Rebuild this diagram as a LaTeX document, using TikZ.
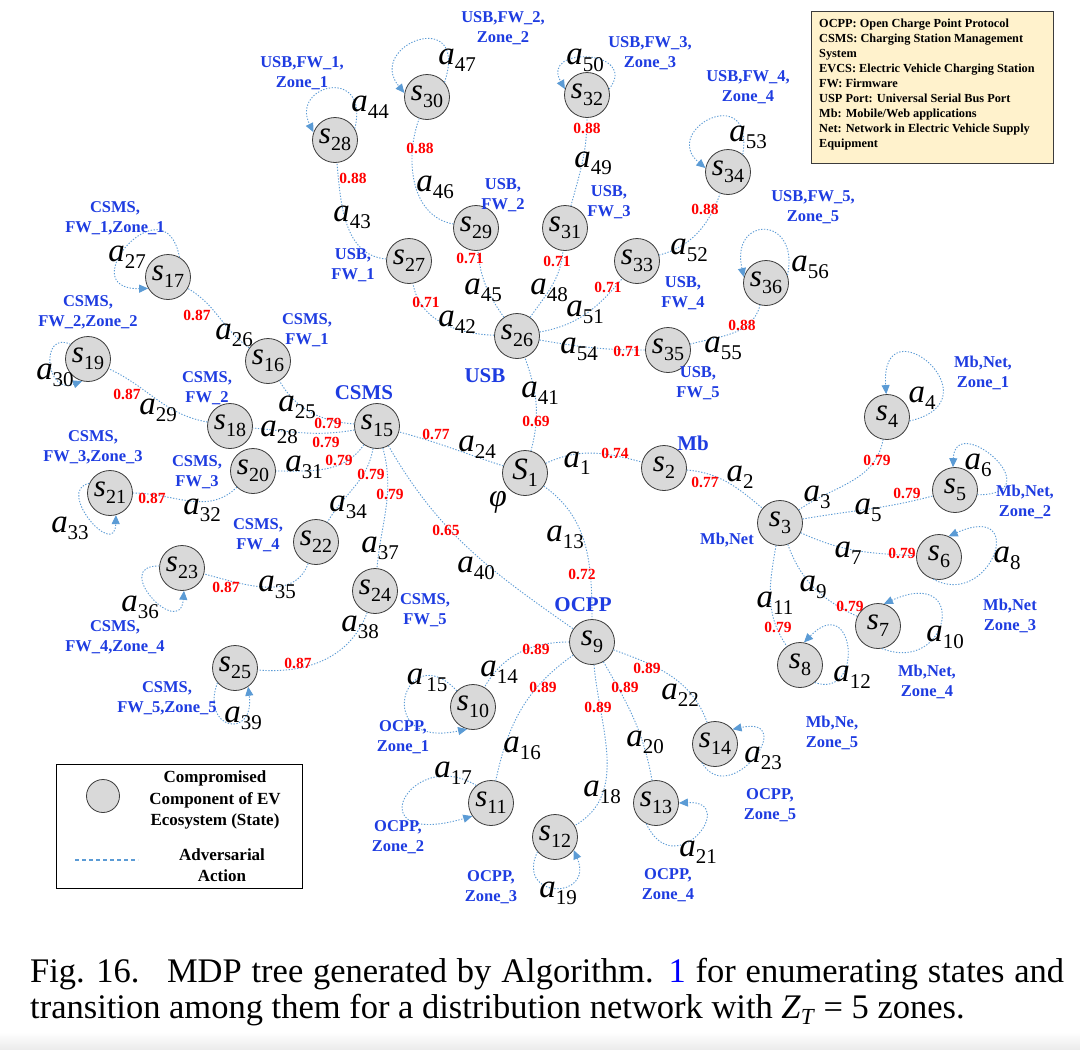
\documentclass[tikz,border=0pt]{standalone}
\usepackage{fontspec}
\setmainfont{Liberation Serif}
\usetikzlibrary{arrows.meta}
\definecolor{edgeblue}{RGB}{91,155,213}
\definecolor{labblue}{RGB}{30,60,225}
\definecolor{nodefill}{RGB}{217,217,217}
\definecolor{nodeline}{RGB}{60,60,60}
\definecolor{legfill}{RGB}{255,242,204}
\newcommand{\actl}[1]{{\fontsize{33}{33}\selectfont\itshape a}\raisebox{-7pt}{\fontsize{21}{21}\selectfont #1}}
\newcommand{\stl}[1]{{\fontsize{31}{31}\selectfont\itshape s}\raisebox{-7pt}{\fontsize{20}{20}\selectfont #1}}
\begin{document}
\begin{tikzpicture}[x=1pt,y=1pt,
  st/.style={circle,draw=nodeline,fill=nodefill,line width=0.8pt,minimum size=45pt,inner sep=0pt},
  edge/.style={draw=edgeblue,line width=0.9pt,dash pattern=on 1.3pt off 1.6pt},
  loopa/.style={edge,-{Triangle[length=9pt,width=8pt]}},
  act/.style={inner sep=0pt,text=black},
  prob/.style={inner sep=0pt,text=red,font=\fontsize{15.5}{16}\selectfont\bfseries},
  blab/.style={inner sep=0pt,text=labblue,align=center,font=\fontsize{16.5}{20}\selectfont\bfseries},
  bigblab/.style={inner sep=0pt,text=labblue,font=\fontsize{21}{24}\selectfont\bfseries}]
\path[use as bounding box] (0,0) rectangle (1080,-1050);
\fill[white] (0,0) rectangle (1080,-1050);
\shade[top color=white,bottom color=black!8] (0,-1032) rectangle (1080,-1050);

% ---------- states ----------
\node[st] (S1) at (525,-473) {{\fontsize{31}{31}\selectfont\itshape S}\raisebox{-7pt}{\fontsize{20}{20}\selectfont 1}};
\node[st] (s2) at (664,-468) {\stl{2}};
\node[st] (s3) at (780,-523) {\stl{3}};
\node[st] (s4) at (887,-417) {\stl{4}};
\node[st] (s5) at (955,-490) {\stl{5}};
\node[st] (s6) at (939,-557) {\stl{6}};
\node[st] (s7) at (878,-626) {\stl{7}};
\node[st] (s8) at (800,-665) {\stl{8}};
\node[st] (s9) at (592,-642) {\stl{9}};
\node[st] (s10) at (473,-707) {\stl{10}};
\node[st] (s11) at (491,-803) {\stl{11}};
\node[st] (s12) at (555,-837) {\stl{12}};
\node[st] (s13) at (656,-803) {\stl{13}};
\node[st] (s14) at (715,-744) {\stl{14}};
\node[st] (s15) at (377,-426) {\stl{15}};
\node[st] (s16) at (268,-361) {\stl{16}};
\node[st] (s17) at (168,-277) {\stl{17}};
\node[st] (s18) at (230,-426) {\stl{18}};
\node[st] (s19) at (88,-359) {\stl{19}};
\node[st] (s20) at (253,-471) {\stl{20}};
\node[st] (s21) at (110,-493) {\stl{21}};
\node[st] (s22) at (316,-542) {\stl{22}};
\node[st] (s23) at (182,-568) {\stl{23}};
\node[st] (s24) at (375,-591) {\stl{24}};
\node[st] (s25) at (235,-668) {\stl{25}};
\node[st] (s26) at (517,-336) {\stl{26}};
\node[st] (s27) at (409,-261) {\stl{27}};
\node[st] (s28) at (335,-140) {\stl{28}};
\node[st] (s29) at (476,-228) {\stl{29}};
\node[st] (s30) at (427,-97) {\stl{30}};
\node[st] (s31) at (565,-228) {\stl{31}};
\node[st] (s32) at (587,-95) {\stl{32}};
\node[st] (s33) at (637,-261) {\stl{33}};
\node[st] (s34) at (728,-172) {\stl{34}};
\node[st] (s35) at (668,-350) {\stl{35}};
\node[st] (s36) at (766,-283) {\stl{36}};

% ---------- tree edges ----------
\draw[edge] (S1) to[out=25,in=165] (s2);
\draw[edge] (s2) to[out=-5,in=140] (s3);
\draw[edge] (s3) to[out=35,in=-100] (s4);
\draw[edge] (s3) to[out=10,in=195] (s5);
\draw[edge] (s3) to[out=-25,in=177] (s6);
\draw[edge] (s3) to[out=-70,in=155] (s7);
\draw[edge] (s3) to[out=-100,in=125] (s8);
\draw[edge] (S1) to[out=-35,in=90] (s9);
\draw[edge] (s9) to[out=180,in=60] (s10);
\draw[edge] (s9) to[out=215,in=78] (s11);
\draw[edge] (s9) to[out=-85,in=30] (s12);
\draw[edge] (s9) to[out=-60,in=100] (s13);
\draw[edge] (s9) to[out=-20,in=110] (s14);
\draw[edge] (S1) to[out=162,in=-15] (s15);
\draw[edge] (s15) to[out=175,in=-60] (s16);
\draw[edge] (s16) to[out=145,in=-30] (s17);
\draw[edge] (s15) to[out=190,in=-5] (s18);
\draw[edge] (s18) to[out=170,in=-25] (s19);
\draw[edge] (s15) to[out=235,in=0] (s20);
\draw[edge] (s20) to[out=225,in=0] (s21);
\draw[edge] (s15) to[out=-100,in=60] (s22);
\draw[edge] (s22) to[out=-110,in=-15] (s23);
\draw[edge] (s15) to[out=-75,in=85] (s24);
\draw[edge] (s24) to[out=-110,in=-5] (s25);
\draw[edge] (s15) to[out=-60,in=145] (s9);
\draw[edge] (S1) to[out=75,in=-70] (s26);
\draw[edge] (s26) to[out=178,in=-80] (s27);
\draw[edge] (s27) to[out=175,in=-85] (s28);
\draw[edge] (s26) to[out=125,in=-85] (s29);
\draw[edge] (s29) to[out=170,in=-110] (s30);
\draw[edge] (s26) to[out=55,in=-95] (s31);
\draw[edge] (s31) to[out=75,in=-90] (s32);
\draw[edge] (s26) to[out=10,in=-130] (s33);
\draw[edge] (s33) to[out=15,in=-110] (s34);
\draw[edge] (s26) to[out=-10,in=180] (s35);
\draw[edge] (s35) to[out=15,in=-105] (s36);

% ---------- self loops ----------
\draw[loopa] (s4.-10) .. controls (1000,-400) and (880,-300) .. (s4.92);
\draw[loopa] (s5.-12) .. controls (1055,-495) and (955,-410) .. (s5.95);
\draw[loopa] (s6.-105) .. controls (990,-610) and (1030,-500) .. (s6.65);
\draw[loopa] (s7.-80) .. controls (950,-675) and (970,-565) .. (s7.75);
\draw[loopa] (s8.-50) .. controls (865,-700) and (855,-590) .. (s8.80);
\draw[loopa] (s10.135) .. controls (405,-635) and (370,-750) .. (s10.-105);
\draw[loopa] (s11.130) .. controls (410,-745) and (355,-850) .. (s11.-145);
\draw[loopa] (s12.-140) .. controls (515,-900) and (595,-900) .. (s12.-35);
\draw[loopa] (s13.-115) .. controls (675,-885) and (740,-800) .. (s13.0);
\draw[loopa] (s14.-125) .. controls (730,-810) and (800,-715) .. (s14.40);
\draw[loopa] (s17.60) .. controls (165,-180) and (70,-290) .. (s17.-150);
\draw[loopa] (s19.140) .. controls (40,-330) and (45,-395) .. (s19.-105);
\draw[loopa] (s21.155) .. controls (55,-490) and (115,-560) .. (s21.-75);
\draw[loopa] (s23.175) .. controls (110,-565) and (180,-640) .. (s23.-85);
\draw[loopa] (s25.-140) .. controls (200,-730) and (255,-740) .. (s25.-55);
\draw[loopa] (s28.30) .. controls (370,-65) and (290,-85) .. (s28.160);
\draw[loopa] (s30.40) .. controls (470,-5) and (365,-45) .. (s30.170);
\draw[loopa] (s32.15) .. controls (640,-50) and (540,-45) .. (s32.165);
\draw[loopa] (s34.50) .. controls (755,-80) and (660,-130) .. (s34.170);
\draw[loopa] (s36.20) .. controls (800,-215) and (730,-215) .. (s36.165);

% ---------- action labels ----------
\node[act] (a1) at (577,-463) {\actl{1}};
\node[act] (a2) at (740,-477) {\actl{2}};
\node[act] (a3) at (817,-497) {\actl{3}};
\node[act] (a4) at (922,-398) {\actl{4}};
\node[act] (a5) at (868,-510) {\actl{5}};
\node[act] (a6) at (978,-465) {\actl{6}};
\node[act] (a7) at (848,-553) {\actl{7}};
\node[act] (a8) at (1007,-558) {\actl{8}};
\node[act] (a9) at (813,-587) {\actl{9}};
\node[act] (a10) at (945,-637) {\actl{10}};
\node[act] (a11) at (775,-603) {\actl{11}};
\node[act] (a12) at (852,-677) {\actl{12}};
\node[act] (a13) at (565,-537) {\actl{13}};
\node[act] (a14) at (499,-672) {\actl{14}};
\node[act] (a15) at (427,-680) {\actl{\kern3pt 15}};
\node[act] (a16) at (522,-748) {\actl{16}};
\node[act] (a17) at (453,-773) {\actl{17}};
\node[act] (a18) at (602,-792) {\actl{18}};
\node[act] (a19) at (558,-893) {\actl{19}};
\node[act] (a20) at (645,-742) {\actl{20}};
\node[act] (a21) at (698,-852) {\actl{21}};
\node[act] (a22) at (680,-695) {\actl{22}};
\node[act] (a23) at (763,-758) {\actl{23}};
\node[act] (a24) at (477,-447) {\actl{24}};
\node[act] (a25) at (297,-407) {\actl{25}};
\node[act] (a26) at (234,-335) {\actl{26}};
\node[act] (a27) at (127,-257) {\actl{27}};
\node[act] (a28) at (279,-432) {\actl{28}};
\node[act] (a29) at (158,-410) {\actl{29}};
\node[act] (a30) at (55,-375) {\actl{30}};
\node[act] (a31) at (304,-467) {\actl{31}};
\node[act] (a32) at (202,-510) {\actl{32}};
\node[act] (a33) at (70,-528) {\actl{33}};
\node[act] (a34) at (348,-507) {\actl{34}};
\node[act] (a35) at (277,-587) {\actl{35}};
\node[act] (a36) at (140,-607) {\actl{36}};
\node[act] (a37) at (380,-548) {\actl{37}};
\node[act] (a38) at (360,-627) {\actl{38}};
\node[act] (a39) at (243,-718) {\actl{39}};
\node[act] (a40) at (476,-568) {\actl{40}};
\node[act] (a41) at (540,-393) {\actl{41}};
\node[act] (a42) at (457,-322) {\actl{42}};
\node[act] (a43) at (352,-217) {\actl{43}};
\node[act] (a44) at (370,-107) {\actl{44}};
\node[act] (a45) at (483,-290) {\actl{45}};
\node[act] (a46) at (435,-187) {\actl{46}};
\node[act] (a47) at (457,-60) {\actl{47}};
\node[act] (a48) at (549,-290) {\actl{48}};
\node[act] (a49) at (593,-163) {\actl{49}};
\node[act] (a50) at (585,-60) {\actl{50}};
\node[act] (a51) at (585,-312) {\actl{51}};
\node[act] (a52) at (689,-250) {\actl{52}};
\node[act] (a53) at (748,-137) {\actl{53}};
\node[act] (a54) at (579,-349) {\actl{54}};
\node[act] (a55) at (723,-348) {\actl{55}};
\node[act] (a56) at (810,-267) {\actl{56}};
\node[act,font=\fontsize{32}{32}\selectfont\itshape] (phi) at (498,-502) {φ};

% ---------- probabilities ----------
\node[prob] (p1) at (615,-453) {0.74};
\node[prob] (p2) at (705,-482) {0.77};
\node[prob] (p3) at (877,-460) {0.79};
\node[prob] (p5) at (907,-493) {0.79};
\node[prob] (p7) at (902,-553) {0.79};
\node[prob] (p9) at (850,-606) {0.79};
\node[prob] (p11) at (778,-627) {0.79};
\node[prob] (p13) at (582,-574) {0.72};
\node[prob] (p14) at (536,-649) {0.89};
\node[prob] (p16) at (543,-687) {0.89};
\node[prob] (p18) at (598,-707) {0.89};
\node[prob] (p20) at (625,-687) {0.89};
\node[prob] (p22) at (647,-668) {0.89};
\node[prob] (p24) at (436,-434) {0.77};
\node[prob] (p25) at (328,-423) {0.79};
\node[prob] (p26) at (197,-315) {0.87};
\node[prob] (p28) at (326,-442) {0.79};
\node[prob] (p29) at (127,-394) {0.87};
\node[prob] (p31) at (339,-460) {0.79};
\node[prob] (p32) at (152,-498) {0.87};
\node[prob] (p34) at (371,-474) {0.79};
\node[prob] (p35) at (226,-587) {0.87};
\node[prob] (p37) at (390,-494) {0.79};
\node[prob] (p38) at (298,-663) {0.87};
\node[prob] (p40) at (446,-530) {0.65};
\node[prob] (p41) at (536,-421) {0.69};
\node[prob] (p42) at (426,-302) {0.71};
\node[prob] (p43) at (353,-178) {0.88};
\node[prob] (p45) at (470,-258) {0.71};
\node[prob] (p46) at (420,-148) {0.88};
\node[prob] (p48) at (557,-261) {0.71};
\node[prob] (p49) at (587,-128) {0.88};
\node[prob] (p51) at (608,-287) {0.71};
\node[prob] (p52) at (705,-209) {0.88};
\node[prob] (p54) at (627,-351) {0.71};
\node[prob] (p55) at (742,-325) {0.88};

% ---------- blue labels ----------
\node[bigblab] (bCSMS) at (364,-393) {CSMS};
\node[bigblab] (bUSB) at (485,-376) {USB};
\node[bigblab] (bMb) at (693,-443) {Mb};
\node[bigblab] (bOCPP) at (583,-605) {OCPP};
\node[blab] (bMbNet) at (727,-540) {Mb,Net};
\node[blab] (bMbZ1) at (983,-373) {Mb,Net,\\Zone\_1};
\node[blab] (bMbZ2) at (1025,-502) {Mb,Net,\\Zone\_2};
\node[blab] (bMbZ3) at (1010,-616) {Mb,Net\\Zone\_3};
\node[blab] (bMbZ4) at (927,-682) {Mb,Net,\\Zone\_4};
\node[blab] (bMbZ5) at (832,-733) {Mb,Ne,\\Zone\_5};
\node[blab] (bOZ1) at (403,-737) {OCPP,\\Zone\_1};
\node[blab] (bOZ2) at (398,-837) {OCPP,\\Zone\_2};
\node[blab] (bOZ3) at (491,-887) {OCPP,\\Zone\_3};
\node[blab] (bOZ4) at (668,-885) {OCPP,\\Zone\_4};
\node[blab] (bOZ5) at (770,-805) {OCPP,\\Zone\_5};
\node[blab] (bCF1) at (307,-330) {CSMS,\\FW\_1};
\node[blab] (bCF2) at (207,-388) {CSMS,\\FW\_2};
\node[blab] (bCF3) at (197,-472) {CSMS,\\FW\_3};
\node[blab] (bCF4) at (258,-535) {CSMS,\\FW\_4};
\node[blab] (bCF5) at (425,-610) {CSMS,\\FW\_5};
\node[blab] (bCZ1) at (115,-218) {CSMS,\\FW\_1,Zone\_1};
\node[blab] (bCZ2) at (88,-312) {CSMS,\\FW\_2,Zone\_2};
\node[blab] (bCZ3) at (93,-447) {CSMS,\\FW\_3,Zone\_3};
\node[blab] (bCZ4) at (115,-637) {CSMS,\\FW\_4,Zone\_4};
\node[blab] (bCZ5) at (167,-698) {CSMS,\\FW\_5,Zone\_5};
\node[blab] (bUF1) at (353,-265) {USB,\\FW\_1};
\node[blab] (bUF2) at (503,-195) {USB,\\FW\_2};
\node[blab] (bUF3) at (609,-202) {USB,\\FW\_3};
\node[blab] (bUF4) at (683,-293) {USB,\\FW\_4};
\node[blab] (bUF5) at (698,-383) {USB,\\FW\_5};
\node[blab] (bUZ1) at (302,-73) {USB,FW\_1,\\Zone\_1};
\node[blab] (bUZ2) at (503,-28) {USB,FW\_2,\\Zone\_2};
\node[blab] (bUZ3) at (650,-53) {USB,FW\_3,\\Zone\_3};
\node[blab] (bUZ4) at (748,-87) {USB,FW\_4,\\Zone\_4};
\node[blab] (bUZ5) at (813,-207) {USB,FW\_5,\\Zone\_5};

% ---------- legend top right ----------
\node[draw=nodeline,fill=legfill,line width=1pt,minimum width=242pt,minimum height=152pt,anchor=north west,inner sep=0pt] (legbox) at (811,-11) {};
\node[anchor=north west,align=left,inner sep=0pt,font=\fontsize{12.3}{15}\selectfont\bfseries] (legtxt) at (819,-19)
{OCPP: Open Charge Point Protocol\\CSMS: Charging Station Management\\System\\EVCS: Electric Vehicle Charging Station\\FW: Firmware\\USP Port: Universal Serial Bus Port\\Mb: Mobile/Web applications\\Net: Network in Electric Vehicle Supply\\Equipment};

% ---------- legend bottom left ----------
\node[draw=black,line width=1.2pt,minimum width=246pt,minimum height=124pt,anchor=north west,inner sep=0pt] (legbox2) at (56,-764) {};
\node[st,minimum size=33pt] (legst) at (103,-796) {};
\node[inner sep=0pt,align=center,font=\fontsize{17}{21.5}\selectfont\bfseries] (legsttxt) at (215,-800) {Compromised\\Component of EV\\Ecosystem (State)};
\coordinate (ld1) at (75,-860);
\coordinate (ld2) at (138,-860);
\draw[edgeblue,line width=1.6pt,dash pattern=on 4pt off 3pt] (ld1) -- (ld2);
\node[inner sep=0pt,align=center,font=\fontsize{17}{21.5}\selectfont\bfseries] (legacttxt) at (222,-865) {Adversarial\\Action};

% ---------- caption ----------
\node[anchor=base west,inner sep=0pt] (caption) at (30,-982) {\parbox[t]{1034pt}{\fontsize{34.5}{36}\selectfont \mbox{Fig. 16.\hspace{0.8em}}MDP tree generated by Algorithm. {\color{blue}1} for enumerating states and\linebreak transition among them for a distribution network with \textit{Z}\raisebox{-6pt}{\fontsize{23}{23}\selectfont\textit{T}} = 5 zones.}};
\end{tikzpicture}
\end{document}
